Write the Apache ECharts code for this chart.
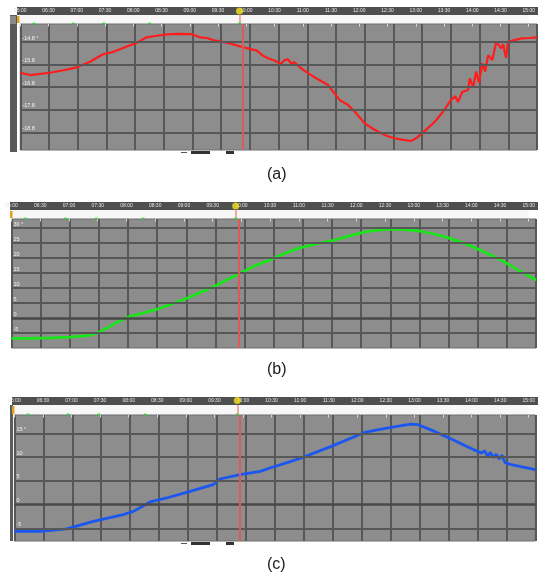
<!DOCTYPE html>
<html><head><meta charset="utf-8">
<script src="https://cdn.jsdelivr.net/npm/echarts@6/dist/echarts.min.js"></script>
<style>html,body{margin:0;padding:0;background:#fff}#c{width:538px;height:576px}</style>
</head><body><div id="c"></div>
<script>
// ---- data ----
const tickLabels = ['06:00','06:30','07:00','07:30','08:00','08:30','09:00','09:30','10:00','10:30','11:00','11:30','12:00','12:30','13:00','13:30','14:00','14:30','15:00'];
const eventMarks = [0.48, 1.88, 2.95, 4.58];

// panel (a)
const timeA = [0,0.34,1.03,1.5,1.97,2.43,2.88,3.2,3.47,3.8,4.06,4.4,4.75,5.1,5.5,5.97,6.26,6.5,6.71,7.0,7.31,7.55,7.76,8.0,8.24,8.45,8.63,8.85,9.08,9.2,9.33,9.43,9.55,9.78,10.05,10.37,10.72,11.13,11.42,11.7,12.0,12.3,12.57,12.8,13.04,13.3,13.61,13.79,14.1,14.44,14.75,15.0,15.15,15.25,15.4,15.6,15.66,15.78,15.88,15.98,16.09,16.19,16.3,16.44,16.58,16.75,16.82,16.92,16.99,17.24,17.45,17.76,18.0];
const valA = [-16.16,-16.26,-16.16,-16.05,-15.92,-15.67,-15.34,-15.25,-15.12,-14.95,-14.83,-14.59,-14.52,-14.46,-14.44,-14.45,-14.59,-14.62,-14.71,-14.78,-14.86,-14.95,-15.03,-15.1,-15.18,-15.4,-15.52,-15.62,-15.77,-15.6,-15.57,-15.74,-15.7,-15.96,-16.2,-16.45,-16.7,-17.37,-17.59,-17.95,-18.4,-18.65,-18.84,-18.97,-19.06,-19.12,-19.18,-19.06,-18.72,-18.33,-17.85,-17.37,-17.2,-17.45,-17.0,-16.92,-16.41,-16.8,-16.1,-16.6,-15.74,-16.1,-15.38,-15.6,-14.79,-15.08,-14.9,-15.5,-14.79,-14.7,-14.64,-14.62,-14.59];
const levelsA = [-14.8,-15.8,-16.8,-17.8,-18.8];
const levelLabelsA = ['-14.8 °','-15.8','-16.8','-17.8','-18.8'];
const cursorA = 7.76;

// panel (b)
const timeB = [0,0.7,1.32,2.0,2.69,3.04,3.3,3.55,3.8,4.03,4.5,4.99,5.5,6.02,6.55,7.05,7.45,7.8,8.3,8.85,9.35,9.83,10.45,11.1,11.6,12.1,12.55,13.0,13.5,14.0,14.5,15.0,15.7,16.25,16.8,17.25,17.7,18.0];
const valB = [-6.8,-6.75,-6.6,-6.4,-5.8,-4.6,-3.2,-1.8,-0.6,0.4,1.6,2.9,4.7,6.6,8.8,11,13.0,14.7,17.2,19.3,21.4,23.2,24.7,26.0,27.4,28.6,29.3,29.6,29.5,29.0,28.0,26.7,24.3,21.9,19.3,16.8,14.3,12.7];
const levelsB = [30,25,20,15,10,5,0,-5];
const levelLabelsB = ['30 °','25','20','15','10','5','0','-5'];
const cursorB = 7.8;

// panel (c)
const timeC = [0,0.88,1.81,2.73,3.76,4.11,4.69,5.26,6.07,6.87,7.1,7.8,8.49,8.83,9.45,9.91,10.95,11.64,12.1,12.68,13.37,13.71,13.95,14.52,15.1,15.67,16.13,16.25,16.35,16.45,16.55,16.65,16.75,16.85,16.95,17.17,17.75,18.0];
const valC = [-5.61,-5.61,-5.1,-3.51,-2.1,-1.41,0.57,1.41,2.79,4.2,5.4,6.3,7.0,7.71,8.89,9.81,12.25,14.01,15.19,15.9,16.6,16.95,16.81,15.4,13.8,12.12,10.86,11.3,10.2,11.0,9.9,10.6,9.6,10.4,8.9,8.4,7.71,7.35];
const levelsC = [15,10,5,0,-5];
const levelLabelsC = ['15 °','10','5','0','-5'];
const cursorC = 7.8;

// ---- layout / style ----
const W = 538;
const panels = [
  {t: timeA, v: valA, lv: levelsA, ll: levelLabelsA, cursor: cursorA, color: '#ff1c1c', lw: 2.2, ymin: -19.58, ymax: -14.0,
   left: 20.3, right: 537, stripTop: 7, barTop: 15, plotTop: 24, plotBottom: 150, stripLeft: 17, caption: '(a)', capTop: 162},
  {t: timeB, v: valB, lv: levelsB, ll: levelLabelsB, cursor: cursorB, color: '#19e619', lw: 2.8, ymin: -10, ymax: 33,
   left: 11.5, right: 536, stripTop: 202, barTop: 210, plotTop: 219, plotBottom: 348, stripLeft: 10, caption: '(b)', capTop: 357},
  {t: timeC, v: valC, lv: levelsC, ll: levelLabelsC, cursor: cursorC, color: '#1a56f0', lw: 2.8, ymin: -7.63, ymax: 18.85,
   left: 14.4, right: 535.3, stripTop: 397, barTop: 405, plotTop: 415, plotBottom: 541, stripLeft: 12, caption: '(c)', capTop: 552}
];

const grid = [], xAxis = [], yAxis = [], series = [], title = [], graphic = [];
panels.forEach((p, i) => {
  const gBar = i * 2, gPlot = i * 2 + 1;
  graphic.push({type: 'rect', z: -5, shape: {x: p.stripLeft, y: p.stripTop, width: W - p.stripLeft, height: p.barTop - p.stripTop}, style: {fill: '#4f4f4f'}});
  graphic.push({type: 'rect', z: 5, shape: {x: p.stripLeft, y: p.barTop + 1, width: 2.5, height: p.plotTop - p.barTop - 2}, style: {fill: '#e0a020'}});
  title.push({text: p.caption, left: 262, top: p.capTop, textStyle: {fontFamily: 'Liberation Sans', fontSize: 16, fontWeight: 'normal', color: '#1a1a1a'}});

  grid.push({left: p.left, width: p.right - p.left, top: p.barTop, height: p.plotTop - p.barTop, show: true, backgroundColor: '#f7f7f7', borderWidth: 0});
  grid.push({left: p.left, width: p.right - p.left, top: p.plotTop, height: p.plotBottom - p.plotTop, show: true, backgroundColor: '#8d8d8d', borderColor: '#6e6e6e', borderWidth: 1});

  xAxis.push({gridIndex: gBar, type: 'value', min: 0, max: 18, interval: 1, position: 'top',
    axisLine: {show: false}, splitLine: {show: false},
    axisTick: {show: true, inside: true, length: 2.5, lineStyle: {color: '#d8d8d8', width: 1}},
    axisLabel: {show: true, margin: 1.5, fontSize: 5, color: '#e6e6e6', fontFamily: 'Liberation Sans', formatter: v => tickLabels[v] || ''}});
  xAxis.push({gridIndex: gPlot, type: 'value', min: 0, max: 18, interval: 1,
    axisLine: {show: false}, axisTick: {show: false}, axisLabel: {show: false},
    splitLine: {show: true, lineStyle: {color: '#575757', width: 2}}});
  yAxis.push({gridIndex: gBar, type: 'value', min: 0, max: 1, show: false});
  yAxis.push({gridIndex: gPlot, type: 'value', min: p.ymin, max: p.ymax, show: false, splitLine: {show: false}});

  series.push({type: 'line', xAxisIndex: gPlot, yAxisIndex: gPlot, z: 1, data: [[0, p.ymin]], showSymbol: false, silent: true,
    lineStyle: {opacity: 0},
    markLine: {silent: true, symbol: 'none', animation: false,
      data: p.lv.map((lv, k) => ({yAxis: lv,
        lineStyle: {color: lv === 0 ? '#484848' : '#575757', width: lv === 0 ? 2.5 : 2, type: 'solid'},
        label: {show: true, position: 'insideStartTop', distance: [2, 1], formatter: p.ll[k], fontSize: 5.5, color: '#f2f2f2', fontFamily: 'Liberation Sans'}}))}});
  series.push({type: 'line', xAxisIndex: gPlot, yAxisIndex: gPlot, z: 3, data: p.t.map((t, k) => [t, p.v[k]]),
    showSymbol: false, animation: false, lineStyle: {color: p.color, width: p.lw}});
  series.push({type: 'line', xAxisIndex: gPlot, yAxisIndex: gPlot, z: 4, data: [[p.cursor, p.ymin]], showSymbol: false, lineStyle: {opacity: 0},
    markLine: {silent: true, symbol: 'none', animation: false, label: {show: false},
      data: [{xAxis: p.cursor, lineStyle: {color: '#dc5a5a', width: 2, type: 'solid'}}]}});
  series.push({type: 'line', xAxisIndex: gBar, yAxisIndex: gBar, z: 4, data: [[p.cursor, 0]], showSymbol: false, lineStyle: {opacity: 0},
    markLine: {silent: true, symbol: 'none', animation: false, label: {show: false},
      data: [{xAxis: p.cursor, lineStyle: {color: '#f0a8a8', width: 2, type: 'solid'}}]}});
  series.push({type: 'scatter', xAxisIndex: gBar, yAxisIndex: gBar, z: 5, clip: false, silent: true, animation: false,
    symbol: 'rect', symbolSize: [3, 2], itemStyle: {color: '#2ed62e'},
    data: eventMarks.concat([p.cursor]).map(m => [m, 0.05])});
  series.push({type: 'scatter', xAxisIndex: gBar, yAxisIndex: gBar, z: 6, clip: false, silent: true, animation: false,
    symbolSize: 7, itemStyle: {color: '#f2e21a'}, data: [[p.cursor, 1.45]]});
});

graphic.push({type: 'rect', z: -5, shape: {x: 10, y: 15, width: 7, height: 137}, style: {fill: '#595959'}});
graphic.push({type: 'rect', z: -4, shape: {x: 10, y: 16, width: 6, height: 8}, style: {fill: '#8a8a8a'}});
graphic.push({type: 'rect', z: -5, shape: {x: 10, y: 405, width: 3, height: 136}, style: {fill: '#5c5c5c'}});
[[152], [543]].forEach(([y]) => {
  graphic.push({type: 'rect', shape: {x: 181, y: y, width: 6, height: 1}, style: {fill: '#555'}});
  graphic.push({type: 'rect', shape: {x: 191, y: y - 1, width: 19, height: 3}, style: {fill: '#333'}});
  graphic.push({type: 'rect', shape: {x: 226, y: y - 1, width: 8, height: 3}, style: {fill: '#333'}});
});

const chart = echarts.init(document.getElementById('c'), null, {renderer: 'canvas'});
chart.setOption({animation: false, backgroundColor: '#ffffff', title, grid, xAxis, yAxis, series, graphic});
</script></body></html>
